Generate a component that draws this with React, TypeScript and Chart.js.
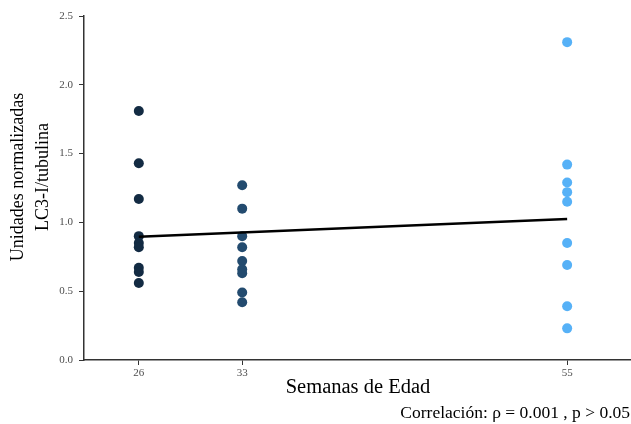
import React, { useEffect, useRef } from "react";
import { Chart, registerables } from "chart.js";

Chart.register(...registerables);

const semanas = [26, 33, 55];
const valores26 = [1.81, 1.43, 1.17, 0.9, 0.85, 0.82, 0.67, 0.64, 0.56];
const valores33 = [1.27, 1.1, 0.9, 0.82, 0.72, 0.66, 0.63, 0.49, 0.42];
const valores55 = [2.31, 1.42, 1.29, 1.22, 1.15, 0.85, 0.69, 0.39, 0.23];
const colores = ["#132B43", "#234B6F", "#56B1F7"];
const tendenciaX = [26, 55];
const tendenciaY = [0.896, 1.025];
const yTicks = [0, 0.5, 1.0, 1.5, 2.0, 2.5];
const tituloX = "Semanas de Edad";
const tituloY = ["Unidades normalizadas", "LC3-I/tubulina"];
const pie = "Correlación: ρ = 0.001 , p > 0.05";

const SERIF = "'Liberation Serif', 'Times New Roman', serif";

export default function App() {
  const ref = useRef<HTMLCanvasElement | null>(null);

  useEffect(() => {
    if (!ref.current) return;
    const grupos = [valores26, valores33, valores55];
    const scatterSets = grupos.map((vals, i) => ({
      type: "scatter" as const,
      label: String(semanas[i]),
      data: vals.map((v) => ({ x: semanas[i], y: v })),
      backgroundColor: colores[i],
      borderColor: colores[i],
      pointRadius: 5,
      pointBorderWidth: 0,
      order: 1,
    }));
    const lineSet = {
      type: "line" as const,
      label: "tendencia",
      data: tendenciaX.map((x, i) => ({ x, y: tendenciaY[i] })),
      borderColor: "#000000",
      borderWidth: 2.5,
      pointRadius: 0,
      fill: false,
      order: 0,
    };

    const textPlugin = {
      id: "textos",
      afterDraw(chart: any) {
        const ctx = chart.ctx;
        ctx.save();
        // caption
        ctx.font = `17.5px ${SERIF}`;
        ctx.fillStyle = "#000000";
        ctx.textAlign = "right";
        ctx.textBaseline = "alphabetic";
        ctx.fillText(pie, 630, 418);
        // y title (two lines, rotated)
        ctx.font = `18px ${SERIF}`;
        ctx.textAlign = "center";
        ctx.textBaseline = "middle";
        ctx.translate(18, 177);
        ctx.rotate(-Math.PI / 2);
        tituloY.forEach((t, i) => ctx.fillText(t, 0, i * 25));
        ctx.restore();
      },
    };

    const chart = new Chart(ref.current, {
      type: "scatter",
      data: { datasets: [...scatterSets, lineSet] as any },
      options: {
        responsive: false,
        animation: false,
        layout: { padding: { top: 16, right: 0, bottom: 0, left: 0 } },
        plugins: {
          legend: { display: false },
          tooltip: { enabled: false },
        },
        scales: {
          x: {
            type: "linear",
            min: 22.29,
            max: 59.39,
            afterBuildTicks: (scale: any) => {
              scale.ticks = semanas.map((v) => ({ value: v }));
            },
            afterFit: (scale: any) => {
              scale.height = 64;
            },
            ticks: {
              color: "#4D4D4D",
              font: { family: SERIF, size: 11 },
              padding: 2,
              autoSkip: false,
              maxRotation: 0,
            },
            grid: {
              display: true,
              drawOnChartArea: false,
              drawTicks: true,
              tickLength: 5,
              color: "#333333",
              lineWidth: 1,
            },
            border: { display: true, color: "#333333", width: 1.5 },
            title: {
              display: true,
              text: tituloX,
              color: "#000000",
              font: { family: SERIF, size: 20.5, lineHeight: 1.2 },
              padding: { top: 0, bottom: 24 },
            },
          },
          y: {
            type: "linear",
            min: 0,
            max: 2.5,
            afterBuildTicks: (scale: any) => {
              scale.ticks = yTicks.map((v) => ({ value: v }));
            },
            afterFit: (scale: any) => {
              scale.width = 84;
            },
            ticks: {
              color: "#4D4D4D",
              font: { family: SERIF, size: 11 },
              padding: 6,
              callback: (v: any) => Number(v).toFixed(1),
            },
            grid: {
              display: true,
              drawOnChartArea: false,
              drawTicks: true,
              tickLength: 5,
              color: "#333333",
              lineWidth: 1,
            },
            border: { display: true, color: "#333333", width: 1.5 },
            title: { display: false },
          },
        },
      },
      plugins: [textPlugin],
    });

    return () => chart.destroy();
  }, []);

  return (
    <div
      style={{
        position: "absolute",
        left: 0,
        top: 0,
        width: 631,
        height: 424,
        overflow: "hidden",
        background: "#ffffff",
      }}
    >
      <canvas ref={ref} width={637} height={424} style={{ display: "block" }} />
    </div>
  );
}
